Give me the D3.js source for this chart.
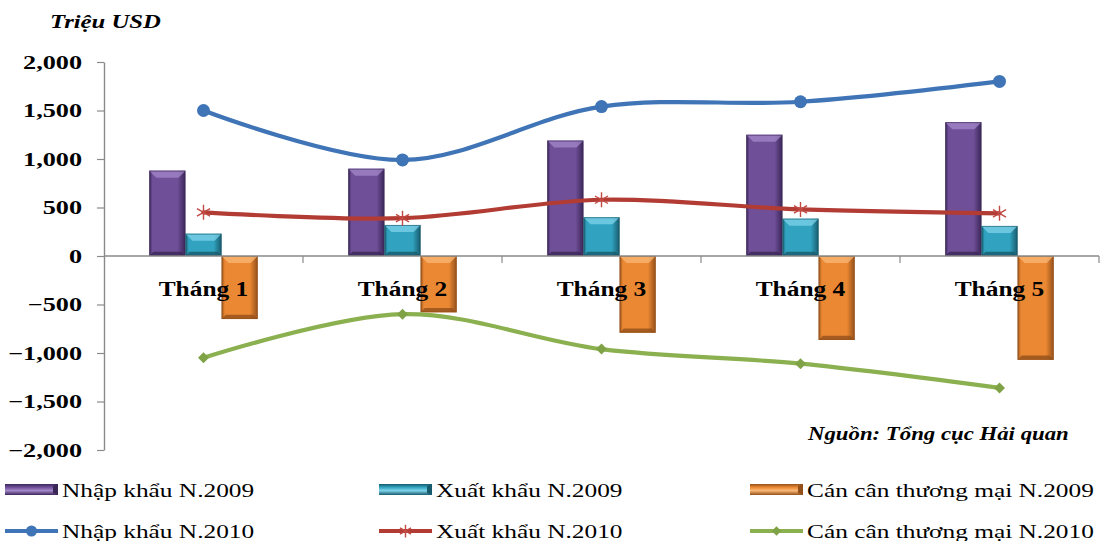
<!DOCTYPE html>
<html>
<head>
<meta charset="utf-8">
<script src="https://cdn.jsdelivr.net/npm/d3@7"></script>
<style>
  html, body { margin: 0; padding: 0; background: #ffffff; }
  svg { display: block; }
  text { font-family: "Liberation Serif", "Times New Roman", serif; fill: #000; }
</style>
</head>
<body>
<svg id="chart" width="1101" height="541"></svg>
<script>
// Monthly trade figures, million USD
const months = ["Tháng 1", "Tháng 2", "Tháng 3", "Tháng 4", "Tháng 5"];
const import2009 = [880, 900, 1190, 1250, 1380];
const export2009 = [230, 320, 400, 385, 310];
const balance2009 = [-650, -580, -790, -865, -1070];
const import2010 = [1500, 990, 1540, 1590, 1800];
const export2010 = [450, 390, 580, 480, 440];
const balance2010 = [-1050, -600, -960, -1110, -1360];
const yTicks = [-2000, -1500, -1000, -500, 0, 500, 1000, 1500, 2000];
const barNames = ["Nhập khẩu N.2009", "Xuất khẩu N.2009", "Cán cân thương mại N.2009"];
const lineNames = ["Nhập khẩu N.2010", "Xuất khẩu N.2010", "Cán cân thương mại N.2010"];

const svg = d3.select("#chart");

const x = d3.scaleBand().domain(months).range([104, 1099]).padding(0);
const y = d3.scaleLinear().domain([-2000, 2000]).range([450, 62]);
const groupW = x.bandwidth() * 0.545;
const xSub = d3.scaleBand().domain([0, 1, 2])
  .range([(x.bandwidth() - groupW) / 2, (x.bandwidth() + groupW) / 2]).padding(0);

const barSeries = [
  { values: import2009, base: "#6f4f98", light: "#a488c9", dark: "#3b2658" },
  { values: export2009, base: "#31a3c0", light: "#7fd3ea", dark: "#175a6c" },
  { values: balance2009, base: "#eb8833", light: "#f9b877", dark: "#94501a" }
];
const lineSeries = [
  { values: import2010, color: "#3f74b6", marker: "circle", mcolor: "#3f74b6" },
  { values: export2010, color: "#b23b34", marker: "star", mcolor: "#c24a44" },
  { values: balance2010, color: "#8bb04f", marker: "diamond", mcolor: "#7fa247" }
];

const defs = svg.append("defs");
barSeries.forEach((s, i) => {
  const g = defs.append("linearGradient").attr("id", "barGrad" + i)
    .attr("x1", 0).attr("x2", 1).attr("y1", 0).attr("y2", 0);
  g.append("stop").attr("offset", "0%").attr("stop-color", s.dark);
  g.append("stop").attr("offset", "9%").attr("stop-color", s.base);
  g.append("stop").attr("offset", "78%").attr("stop-color", s.base);
  g.append("stop").attr("offset", "100%").attr("stop-color", s.dark);
  const v = defs.append("linearGradient").attr("id", "legGrad" + i)
    .attr("x1", 0).attr("x2", 0).attr("y1", 0).attr("y2", 1);
  v.append("stop").attr("offset", "0%").attr("stop-color", s.dark);
  v.append("stop").attr("offset", "30%").attr("stop-color", s.base);
  v.append("stop").attr("offset", "60%").attr("stop-color", s.light);
  v.append("stop").attr("offset", "100%").attr("stop-color", s.dark);
});

function stretched(sel, px, py, sx) {
  return sel.attr("transform", `translate(${px},${py}) scale(${sx},1)`);
}

// Axis title
stretched(svg.append("text"), 50, 28, 1.3)
  .attr("font-size", 19).attr("font-weight", "bold").attr("font-style", "italic")
  .text("Triệu USD");

// Y axis
const yAxis = svg.append("g").attr("transform", "translate(104,0)")
  .call(d3.axisLeft(y).tickValues(yTicks).tickFormat(d3.format(",")).tickSize(7).tickSizeOuter(0));
yAxis.select(".domain").attr("stroke", "#8a8a8a").attr("stroke-width", 1.4);
yAxis.selectAll(".tick line").attr("stroke", "#8a8a8a").attr("stroke-width", 1.2);
yAxis.selectAll(".tick text")
  .attr("font-size", 19).attr("font-weight", "bold").attr("fill", "#000")
  .attr("x", -22 / 1.38).attr("transform", "scale(1.38,1)");

// Bars with a bevelled face
const bars = svg.append("g");
barSeries.forEach((s, si) => {
  s.values.forEach((v, mi) => {
    const x0 = x(months[mi]) + xSub(si);
    const w = xSub.bandwidth();
    const x1 = x0 + w;
    const yt = Math.min(y(0), y(v));
    const yb = Math.max(y(0), y(v));
    const b = Math.min(7, (yb - yt) / 2);
    const g = bars.append("g");
    g.append("rect").attr("x", x0).attr("y", yt).attr("width", w).attr("height", yb - yt)
      .attr("fill", `url(#barGrad${si})`);
    g.append("path")
      .attr("d", `M${x0},${yt}L${x1},${yt}L${x1 - b},${yt + b}L${x0 + b},${yt + b}Z`)
      .attr("fill", s.light).attr("opacity", 0.75);
    g.append("path")
      .attr("d", `M${x0},${yb}L${x1},${yb}L${x1 - b * 0.6},${yb - b * 0.6}L${x0 + b * 0.6},${yb - b * 0.6}Z`)
      .attr("fill", s.dark).attr("opacity", 0.8);
    g.append("rect").attr("x", x0 + 0.5).attr("y", yt + 0.5).attr("width", w - 1).attr("height", yb - yt - 1)
      .attr("fill", "none").attr("stroke", s.dark).attr("stroke-width", 1).attr("opacity", 0.6);
  });
});

// Zero line and category separators
const x0Line = svg.append("g");
x0Line.append("line").attr("x1", x.range()[0]).attr("x2", x.range()[1])
  .attr("y1", y(0)).attr("y2", y(0)).attr("stroke", "#8a8a8a").attr("stroke-width", 1.4);
x0Line.selectAll("line.tk").data(months).join("line").attr("class", "tk")
  .attr("x1", d => x(d) + x.bandwidth()).attr("x2", d => x(d) + x.bandwidth())
  .attr("y1", y(0)).attr("y2", y(0) + 7).attr("stroke", "#8a8a8a").attr("stroke-width", 1.2);

// Category labels
svg.append("g").selectAll("text").data(months).join("text")
  .attr("transform", d => `translate(${x(d) + x.bandwidth() / 2},296) scale(1.27,1)`)
  .attr("text-anchor", "middle").attr("font-size", 20).attr("font-weight", "bold")
  .text(d => d);

// 2010 lines
const starPath = r => {
  const a = r * 0.87, h = r * 0.5;
  return `M${-a},${-h}L${a},${h}M${-a},${h}L${a},${-h}M0,${-r}L0,${r}`;
};
function drawMarker(g, type, color, px, py, scale) {
  const k = scale || 1;
  if (type === "circle") {
    g.append("circle").attr("cx", px).attr("cy", py).attr("r", 6.5 * k).attr("fill", color);
  } else if (type === "diamond") {
    const r = 5.5 * k;
    g.append("path").attr("d", `M${px},${py - r}L${px + r},${py}L${px},${py + r}L${px - r},${py}Z`)
      .attr("fill", color);
  } else {
    g.append("path").attr("transform", `translate(${px},${py})`).attr("d", starPath(7.5 * k))
      .attr("stroke", color).attr("stroke-width", 1.4).attr("fill", "none");
  }
}
const line = d3.line().curve(d3.curveCatmullRom.alpha(0.5));
const linesG = svg.append("g");
lineSeries.forEach(s => {
  const pts = s.values.map((v, i) => [x(months[i]) + x.bandwidth() / 2, y(v)]);
  linesG.append("path").attr("d", line(pts)).attr("fill", "none")
    .attr("stroke", s.color).attr("stroke-width", 4.2).attr("stroke-linecap", "round");
  pts.forEach(p => drawMarker(linesG, s.marker, s.mcolor, p[0], p[1]));
});

// Source note
stretched(svg.append("text"), 808, 440, 1.2)
  .attr("font-size", 19).attr("font-weight", "bold").attr("font-style", "italic")
  .text("Nguồn: Tổng cục Hải quan");

// Legend
const legCols = [5, 379, 750];
const leg = svg.append("g");
barNames.forEach((name, i) => {
  const lx = legCols[i], w = 53;
  const s = barSeries[i];
  leg.append("rect").attr("x", lx).attr("y", 484).attr("width", w).attr("height", 11)
    .attr("fill", `url(#legGrad${i})`);
  leg.append("path")
    .attr("d", `M${lx + w - 5},${486}L${lx + w},${484}L${lx + w},${495}L${lx + w - 5},${493}Z`)
    .attr("fill", s.dark);
  stretched(leg.append("text"), lx + w + 4, 497, 1.3).attr("font-size", 19.5).text(name);
});
lineNames.forEach((name, i) => {
  const lx = legCols[i], w = 53;
  const s = lineSeries[i];
  leg.append("line").attr("x1", lx).attr("x2", lx + w).attr("y1", 531).attr("y2", 531)
    .attr("stroke", s.color).attr("stroke-width", 4.2);
  drawMarker(leg, s.marker, s.mcolor, lx + w / 2, 531, 0.85);
  stretched(leg.append("text"), lx + w + 4, 538, 1.3).attr("font-size", 19.5).text(name);
});
</script>
</body>
</html>
